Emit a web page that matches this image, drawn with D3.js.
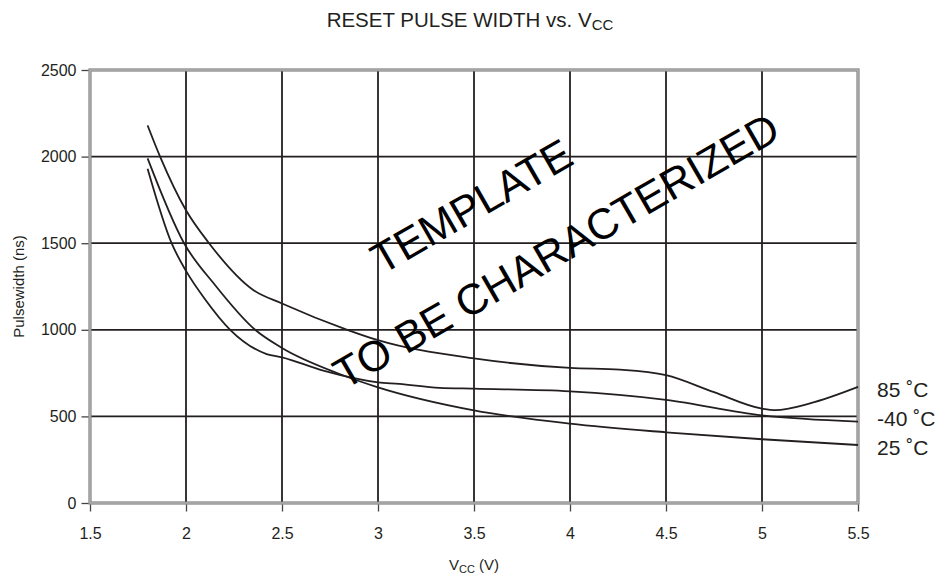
<!DOCTYPE html>
<html>
<head>
<meta charset="utf-8">
<script src="https://cdn.jsdelivr.net/npm/d3@7/dist/d3.min.js"></script>
<style>
  html, body { margin: 0; padding: 0; background: #fff; }
  svg { display: block; font-family: "Liberation Sans", Arial, Helvetica, sans-serif; }
</style>
</head>
<body>
<svg id="chart" width="949" height="579"></svg>
<script>
// ---------- data ----------
const xTickValues = [1.5, 2, 2.5, 3, 3.5, 4, 4.5, 5, 5.5];
const yTickValues = [0, 500, 1000, 1500, 2000, 2500];

const seriesNames = ["85 ˚C", "-40 ˚C", "25 ˚C"];

const vcc85 = [1.8, 1.865, 2.0, 2.12, 2.35, 2.5, 2.84, 3.0, 3.5, 4.0, 4.26, 4.5, 4.75, 5.0, 5.07, 5.25, 5.5];
const pw85  = [2180, 2000, 1690, 1500, 1230, 1152, 1000, 940, 835, 780, 770, 738, 640, 545, 536, 575, 670];

const vccM40 = [1.8, 1.925, 2.0, 2.1, 2.23, 2.42, 2.5, 2.715, 3.0, 3.11, 3.32, 3.5, 4.0, 4.5, 5.0, 5.5];
const pwM40  = [1930, 1500, 1340, 1175, 1000, 860, 841, 764, 697, 688, 665, 660, 645, 596, 506, 470];

const vcc25 = [1.8, 1.99, 2.15, 2.36, 2.5, 2.8, 3.0, 3.5, 4.0, 4.5, 5.0, 5.5];
const pw25  = [1990, 1500, 1260, 1000, 895, 745, 668, 535, 458, 408, 368, 335];

const labelValues = [658, 491, 323];

const watermarkText = ["TEMPLATE", "TO BE CHARACTERIZED"];
const watermarkVcc  = [3.021, 2.826];
const watermarkPw   = [1316, 652];

// ---------- layout ----------
const svg = d3.select("#chart");
const pLeft = 90, pRight = 858, pTop = 70, pBottom = 503;
const ink = "#231f20";

const x = d3.scaleLinear().domain([1.5, 5.5]).range([pLeft, pRight]);
const y = d3.scaleLinear().domain([0, 2500]).range([pBottom, pTop]);

// gridlines
const grid = svg.append("g");
grid.selectAll("line.v").data(xTickValues.slice(1, -1)).join("line")
  .attr("class", "v")
  .attr("x1", d => x(d)).attr("x2", d => x(d))
  .attr("y1", pTop).attr("y2", pBottom)
  .attr("stroke", ink).attr("stroke-width", 1.8);
grid.selectAll("line.h").data(yTickValues.slice(1, -1)).join("line")
  .attr("class", "h")
  .attr("x1", pLeft).attr("x2", pRight)
  .attr("y1", d => y(d)).attr("y2", d => y(d))
  .attr("stroke", ink).attr("stroke-width", 1.8);

// frame (gray double line)
svg.append("rect").attr("x", pLeft).attr("y", pTop)
  .attr("width", pRight - pLeft).attr("height", pBottom - pTop)
  .attr("fill", "none").attr("stroke", "#808080").attr("stroke-width", 3.2);
svg.append("rect").attr("x", pLeft).attr("y", pTop)
  .attr("width", pRight - pLeft).attr("height", pBottom - pTop)
  .attr("fill", "none").attr("stroke", "#d0d0d0").attr("stroke-width", 0.9);

// axes
const xAxis = svg.append("g").attr("transform", `translate(0,${pBottom + 1.5})`)
  .call(d3.axisBottom(x).tickValues(xTickValues).tickFormat(d3.format("")).tickSize(7).tickPadding(16));
const yAxis = svg.append("g").attr("transform", `translate(${pLeft - 1.5},0)`)
  .call(d3.axisLeft(y).tickValues(yTickValues).tickFormat(d3.format("")).tickSize(7).tickPadding(5));
[xAxis, yAxis].forEach(a => {
  a.select(".domain").remove();
  a.selectAll(".tick line").attr("stroke", "#444").attr("stroke-width", 1.3);
  a.selectAll(".tick text").attr("fill", "#231f20").style("font-size", "16px")
    .style("font-family", '"Liberation Sans", Arial, sans-serif');
});

// curves
const line = d3.line().x(d => x(d[0])).y(d => y(d[1])).curve(d3.curveMonotoneX);
const series = [
  d3.zip(vcc85, pw85),
  d3.zip(vccM40, pwM40),
  d3.zip(vcc25, pw25)
];
svg.append("g").selectAll("path").data(series).join("path")
  .attr("d", line).attr("fill", "none")
  .attr("stroke", ink).attr("stroke-width", 1.8);

// series labels
svg.append("g").selectAll("text").data(seriesNames).join("text")
  .attr("x", pRight + 19).attr("y", (d, i) => y(labelValues[i]))
  .attr("dy", "0.36em")
  .attr("fill", ink).style("font-size", "21px")
  .text(d => d);

// watermark
svg.append("g").selectAll("text").data(watermarkText).join("text")
  .attr("transform", (d, i) => `translate(${x(watermarkVcc[i])},${y(watermarkPw[i])}) rotate(-30)`)
  .attr("fill", "#000").style("font-size", "43px")
  .text(d => d);

// title
const title = svg.append("text").attr("x", 470).attr("y", 27)
  .attr("text-anchor", "middle").attr("fill", ink).style("font-size", "20.5px");
title.append("tspan").text("RESET PULSE WIDTH vs. V");
title.append("tspan").attr("dy", 3).style("font-size", "15px").text("CC");

// x-axis title
const xt = svg.append("text").attr("x", x(3.5)).attr("y", 570)
  .attr("text-anchor", "middle").attr("fill", ink).style("font-size", "15px");
xt.append("tspan").text("V");
xt.append("tspan").attr("dy", 3).style("font-size", "11px").text("CC");
xt.append("tspan").attr("dy", -3).text(" (V)");

// y-axis title
svg.append("text")
  .attr("transform", `translate(24,${y(1250)}) rotate(-90)`)
  .attr("text-anchor", "middle").attr("fill", ink).style("font-size", "15px")
  .text("Pulsewidth (ns)");
</script>
</body>
</html>
